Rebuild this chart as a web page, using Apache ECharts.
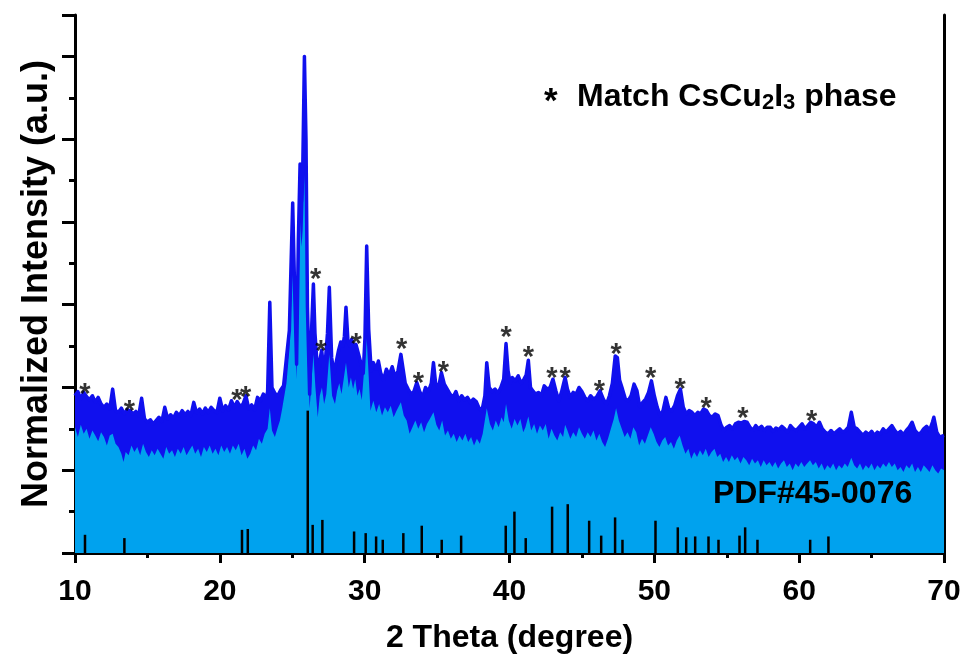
<!DOCTYPE html>
<html>
<head>
<meta charset="utf-8">
<script src="https://cdn.jsdelivr.net/npm/echarts@6/dist/echarts.min.js"></script>
<style>
html,body{margin:0;padding:0;background:#ffffff;}
#chart{width:967px;height:666px;}
</style>
</head>
<body>
<div id="chart"></div>
<script>
// ---- data ----
// upper edge of the measured XRD trace [2theta, normalized intensity]
const upperEnvelope = [
[10.0,1.90],[10.2,1.95],[10.4,1.86],[10.6,1.94],[10.8,1.89],
[11.0,1.85],[11.2,1.90],[11.4,1.82],[11.6,1.88],[11.8,1.80],
[12.0,1.76],[12.2,1.80],[12.4,1.74],[12.6,1.98],[12.8,1.72],
[13.0,1.70],[13.2,1.75],[13.4,1.68],[13.6,1.73],[13.8,1.72],
[14.0,1.68],[14.2,1.71],[14.4,1.66],[14.6,1.87],[14.8,1.62],
[15.0,1.58],[15.2,1.61],[15.4,1.56],[15.6,1.60],[15.8,1.64],
[16.0,1.59],[16.2,1.76],[16.4,1.62],[16.6,1.67],[16.8,1.63],
[17.0,1.70],[17.2,1.66],[17.4,1.72],[17.6,1.67],[17.8,1.71],
[18.0,1.66],[18.2,1.82],[18.4,1.69],[18.6,1.74],[18.8,1.68],
[19.0,1.75],[19.2,1.70],[19.4,1.76],[19.6,1.72],[19.8,1.70],
[20.0,1.87],[20.2,1.72],[20.4,1.78],[20.6,1.73],[20.8,1.84],
[21.0,1.76],[21.2,1.83],[21.4,1.77],[21.6,1.80],[21.8,1.90],
[22.0,1.74],[22.2,1.79],[22.4,1.73],[22.6,1.88],[22.8,1.84],
[23.0,1.92],[23.2,1.87],[23.3,1.95],[23.45,3.03],[23.6,2.00],[23.8,1.93],
[24.0,1.90],[24.2,1.97],[24.4,2.02],[24.6,2.36],[24.8,2.69],[24.9,3.37],
[25.03,4.23],[25.15,3.29],[25.3,2.28],[25.42,3.77],[25.54,4.70],[25.64,4.25],
[25.72,4.57],[25.84,6.00],[25.95,4.98],[26.05,2.97],[26.2,1.92],[26.35,2.77],
[26.46,3.25],[26.57,2.65],[26.76,2.17],[26.9,2.32],[27.03,2.45],[27.15,2.25],
[27.3,2.35],[27.43,2.65],[27.56,3.21],[27.72,2.36],[27.89,2.17],[28.05,2.32],
[28.2,2.45],[28.35,2.55],[28.5,2.50],[28.6,2.62],[28.71,2.97],[28.85,2.55],
[29.0,2.50],[29.1,2.58],[29.25,2.48],[29.4,2.52],[29.55,2.42],[29.7,2.32],
[29.9,2.17],[30.02,2.60],[30.14,3.71],[30.28,2.70],[30.45,2.20],[30.6,2.30],
[30.8,2.22],[30.95,2.32],[31.1,2.18],[31.3,2.09],[31.5,2.22],[31.7,2.15],
[31.9,2.25],[32.1,2.12],[32.3,2.20],[32.5,2.40],[32.6,2.38],[32.8,2.05],
[33.0,1.98],[33.2,1.92],[33.4,1.95],[33.6,2.06],[33.8,1.95],
[34.0,1.88],[34.2,2.00],[34.4,1.95],[34.6,2.05],[34.75,2.30],[34.9,2.05],
[35.1,2.00],[35.3,2.18],[35.5,2.04],[35.7,1.98],[35.9,1.92],
[36.1,1.88],[36.3,1.95],[36.5,1.84],[36.7,1.90],[36.9,1.85],
[37.1,1.88],[37.3,1.82],[37.5,1.86],[37.7,1.83],[37.9,1.75],
[38.1,1.72],[38.3,1.90],[38.43,2.30],[38.6,2.00],[38.8,1.95],
[39.0,1.98],[39.2,1.93],[39.4,2.00],[39.6,2.10],[39.76,2.53],[39.9,2.20],
[40.05,2.05],[40.2,2.12],[40.4,2.08],[40.6,2.14],[40.8,2.05],
[41.0,2.10],[41.15,2.15],[41.3,2.33],[41.45,2.00],[41.6,1.96],[41.8,1.92],
[42.0,1.94],[42.2,1.90],[42.4,2.02],[42.6,1.98],[42.8,2.00],
[43.0,2.10],[43.2,1.96],[43.4,1.84],[43.6,1.95],[43.84,2.12],
[44.0,1.98],[44.2,1.88],[44.4,1.94],[44.6,1.92],[44.8,2.00],
[45.0,1.95],[45.2,1.88],[45.4,1.84],[45.6,1.90],[45.8,1.86],
[46.0,1.88],[46.25,1.96],[46.5,1.85],[46.7,1.80],[46.9,1.90],
[47.1,2.05],[47.3,2.38],[47.45,2.36],[47.6,2.09],[47.8,1.98],
[48.0,1.86],[48.2,1.84],[48.4,1.90],[48.6,2.04],[48.8,1.96],
[49.0,1.76],[49.2,1.82],[49.4,1.86],[49.6,1.94],[49.8,2.08],
[50.0,1.90],[50.2,1.76],[50.4,1.66],[50.6,1.72],[50.8,1.88],
[51.0,1.74],[51.2,1.72],[51.4,1.78],[51.6,1.90],[51.8,1.98],
[52.0,1.76],[52.2,1.68],[52.4,1.72],[52.6,1.70],[52.8,1.66],
[53.0,1.70],[53.2,1.68],[53.4,1.74],[53.6,1.72],[53.8,1.66],
[54.0,1.64],[54.2,1.68],[54.4,1.66],[54.6,1.55],[54.8,1.48],
[55.0,1.52],[55.2,1.54],[55.4,1.50],[55.6,1.56],[55.8,1.58],
[56.0,1.57],[56.2,1.59],[56.4,1.58],[56.6,1.52],[56.8,1.48],
[57.0,1.54],[57.2,1.50],[57.4,1.53],[57.6,1.48],[57.8,1.52],
[58.0,1.52],[58.2,1.47],[58.4,1.51],[58.6,1.49],[58.8,1.53],
[59.0,1.50],[59.2,1.46],[59.4,1.54],[59.6,1.50],[59.8,1.48],
[60.0,1.52],[60.2,1.56],[60.4,1.50],[60.6,1.54],[60.8,1.58],
[61.0,1.56],[61.2,1.52],[61.4,1.58],[61.6,1.50],[61.8,1.46],
[62.0,1.44],[62.2,1.48],[62.4,1.44],[62.6,1.47],[62.8,1.50],
[63.0,1.46],[63.2,1.48],[63.4,1.52],[63.6,1.70],[63.8,1.52],
[64.0,1.50],[64.2,1.46],[64.4,1.42],[64.6,1.46],[64.8,1.43],
[65.0,1.47],[65.2,1.42],[65.4,1.46],[65.6,1.44],[65.8,1.50],
[66.0,1.46],[66.2,1.50],[66.4,1.54],[66.6,1.48],[66.8,1.44],
[67.0,1.47],[67.2,1.43],[67.4,1.48],[67.6,1.52],[67.8,1.58],
[68.0,1.48],[68.2,1.44],[68.4,1.45],[68.6,1.50],[68.8,1.53],
[69.0,1.48],[69.2,1.58],[69.3,1.64],[69.5,1.46],[69.7,1.40],[70.0,1.42]
];

// lower edge of the noisy trace (top of the light fill)
const lowerEnvelope = [
[10.0,1.52],[10.2,1.40],[10.4,1.55],[10.6,1.44],[10.8,1.50],[11.0,1.38],
[11.2,1.48],[11.4,1.42],[11.6,1.35],[11.8,1.46],[12.0,1.40],[12.2,1.30],
[12.4,1.42],[12.6,1.44],[12.8,1.32],[13.0,1.28],[13.2,1.20],[13.35,1.10],
[13.5,1.22],[13.7,1.18],[13.9,1.30],[14.1,1.22],[14.3,1.28],[14.5,1.18],
[14.7,1.32],[14.9,1.22],[15.1,1.16],[15.3,1.24],[15.5,1.18],[15.7,1.26],
[15.9,1.20],[16.1,1.14],[16.3,1.28],[16.5,1.20],[16.7,1.24],[16.9,1.16],
[17.1,1.26],[17.3,1.20],[17.5,1.28],[17.7,1.18],[17.9,1.24],[18.1,1.30],
[18.3,1.20],[18.5,1.26],[18.7,1.16],[18.9,1.28],[19.1,1.22],[19.3,1.30],
[19.5,1.20],[19.7,1.26],[19.9,1.18],[20.1,1.30],[20.3,1.22],[20.5,1.28],
[20.7,1.20],[20.9,1.30],[21.1,1.24],[21.3,1.32],[21.5,1.18],[21.7,1.26],
[21.9,1.14],[22.1,1.20],[22.3,1.30],[22.5,1.24],[22.7,1.38],[22.9,1.32],
[23.1,1.44],[23.3,1.50],[23.45,1.75],[23.6,1.48],[23.8,1.40],[24.0,1.52],
[24.15,1.60],[24.3,1.74],[24.6,2.05],[24.8,2.45],[24.95,3.10],[25.03,3.60],
[25.12,3.00],[25.3,2.10],[25.42,3.00],[25.54,4.00],[25.64,3.70],[25.72,3.90],
[25.84,4.60],[25.95,3.80],[26.05,2.40],[26.2,1.75],[26.46,2.40],[26.6,2.00],
[26.76,1.64],[26.9,1.90],[27.05,2.00],[27.2,1.80],[27.35,1.92],[27.56,2.40],
[27.75,1.90],[27.95,1.80],[28.1,1.96],[28.25,2.05],[28.4,1.92],[28.55,2.10],
[28.71,2.30],[28.9,2.00],[29.05,2.12],[29.2,1.98],[29.35,2.10],[29.5,1.90],
[29.65,1.98],[29.8,1.85],[30.14,2.60],[30.4,1.72],[30.6,1.84],[30.8,1.70],
[31.0,1.80],[31.2,1.66],[31.4,1.76],[31.6,1.70],[31.8,1.78],[32.0,1.64],
[32.2,1.72],[32.5,1.82],[32.7,1.66],[32.9,1.60],[33.1,1.44],[33.3,1.52],
[33.5,1.60],[33.7,1.50],[33.9,1.58],[34.1,1.46],[34.3,1.56],[34.5,1.62],
[34.75,1.70],[34.95,1.55],[35.15,1.48],[35.35,1.60],[35.55,1.42],[35.75,1.48],
[35.95,1.38],[36.15,1.44],[36.35,1.34],[36.55,1.42],[36.75,1.36],[36.95,1.44],
[37.15,1.34],[37.35,1.40],[37.55,1.30],[37.75,1.38],[37.95,1.32],[38.15,1.44],
[38.43,1.75],[38.65,1.56],[38.85,1.48],[39.05,1.60],[39.25,1.52],[39.45,1.64],
[39.6,1.58],[39.76,1.80],[39.95,1.60],[40.15,1.50],[40.35,1.62],[40.55,1.54],
[40.75,1.62],[40.95,1.46],[41.1,1.52],[41.3,1.65],[41.5,1.48],[41.7,1.56],
[41.9,1.44],[42.1,1.54],[42.3,1.48],[42.5,1.56],[42.7,1.38],[42.9,1.50],
[43.1,1.42],[43.3,1.36],[43.5,1.46],[43.7,1.40],[43.84,1.55],[44.0,1.48],
[44.2,1.38],[44.4,1.46],[44.6,1.40],[44.8,1.52],[45.0,1.44],[45.2,1.38],
[45.4,1.46],[45.6,1.40],[45.8,1.48],[46.0,1.36],[46.2,1.44],[46.4,1.34],
[46.6,1.28],[46.8,1.38],[47.0,1.50],[47.2,1.62],[47.36,1.75],[47.55,1.60],
[47.75,1.50],[47.95,1.40],[48.15,1.46],[48.35,1.38],[48.55,1.52],[48.75,1.46],
[48.95,1.30],[49.15,1.38],[49.35,1.32],[49.55,1.42],[49.75,1.52],[49.95,1.44],
[50.15,1.34],[50.35,1.28],[50.55,1.36],[50.75,1.40],[50.95,1.30],[51.15,1.34],
[51.35,1.26],[51.55,1.36],[51.75,1.42],[51.95,1.30],[52.15,1.20],[52.35,1.26],
[52.55,1.14],[52.75,1.22],[52.95,1.16],[53.15,1.24],[53.35,1.18],[53.55,1.26],
[53.75,1.16],[53.95,1.22],[54.15,1.26],[54.35,1.16],[54.55,1.20],[54.75,1.10],
[54.95,1.16],[55.15,1.10],[55.35,1.18],[55.55,1.12],[55.75,1.16],[55.95,1.08],
[56.15,1.16],[56.35,1.12],[56.55,1.06],[56.75,1.14],[56.95,1.08],[57.15,1.12],
[57.35,1.04],[57.55,1.12],[57.75,1.06],[57.95,1.10],[58.15,1.04],[58.35,1.10],
[58.55,1.02],[58.75,1.08],[58.95,1.12],[59.15,1.04],[59.35,1.08],[59.55,1.00],
[59.75,1.08],[59.95,1.04],[60.15,1.10],[60.35,1.04],[60.55,1.08],[60.75,1.12],
[60.95,1.06],[61.15,1.10],[61.35,1.02],[61.55,1.08],[61.75,1.00],[61.95,1.06],
[62.15,1.02],[62.35,1.08],[62.55,1.00],[62.75,1.06],[62.95,1.02],[63.15,1.08],
[63.35,1.04],[63.6,1.15],[63.8,1.06],[64.0,1.02],[64.2,1.08],[64.4,1.00],
[64.6,1.06],[64.8,1.02],[65.0,1.08],[65.2,1.00],[65.4,1.06],[65.6,1.02],
[65.8,1.08],[66.0,1.04],[66.2,1.10],[66.4,1.04],[66.6,1.08],[66.8,1.00],
[67.0,1.04],[67.2,0.98],[67.4,1.06],[67.6,1.02],[67.8,1.08],[68.0,0.98],
[68.2,1.04],[68.4,0.98],[68.6,1.06],[68.8,1.02],[69.0,0.98],[69.2,1.06],
[69.4,1.00],[69.6,0.96],[69.8,1.02],[70.0,1.00]
];

// PDF#45-0076 reference lines [2theta, height]
const pdfSticks = [
[10.69,0.22],[13.41,0.18],[21.53,0.28],[21.93,0.29],[26.07,1.72],[26.41,0.34],
[27.08,0.40],[29.27,0.26],[30.07,0.24],[30.79,0.20],[31.25,0.16],[32.67,0.24],
[33.94,0.33],[35.32,0.16],[36.66,0.21],[39.74,0.33],[40.34,0.50],[41.12,0.18],
[42.94,0.56],[44.02,0.59],[45.50,0.39],[46.33,0.21],[47.29,0.43],[47.80,0.16],
[50.08,0.39],[51.62,0.31],[52.20,0.19],[52.82,0.20],[53.74,0.20],[54.43,0.16],
[55.88,0.21],[56.27,0.31],[57.12,0.16],[60.76,0.16],[62.02,0.20]
];

// asterisks marking peaks that match the CsCu2I3 phase
const phaseMarks = [
[10.69,2.00],[13.75,1.80],[21.17,1.93],[21.79,1.97],[26.62,3.39],[26.97,2.53],
[29.41,2.61],[32.56,2.55],[33.71,2.14],[35.44,2.27],[39.77,2.69],[41.31,2.45],
[42.92,2.20],[43.84,2.20],[46.21,2.04],[47.36,2.49],[49.75,2.20],[51.78,2.06],
[53.58,1.84],[56.11,1.72],[60.87,1.68]
];

const xRange = [10, 70];
const xStep = 10;
const yRange = [0, 6.5];
const yStep = 1;
const xTitle = '2 Theta (degree)';
const yTitle = 'Normalized Intensity (a.u.)';
const refLabel = 'PDF#45-0076';

// ---- chart ----
const FONT = '"Liberation Sans", Arial, Helvetica, sans-serif';
const DARK = '#1010EE';
const LIGHT = '#00A2EE';
const chart = echarts.init(document.getElementById('chart'), null, {renderer: 'canvas'});

const option = {
  animation: false,
  backgroundColor: '#ffffff',
  grid: {left: 75, right: 23, top: 15, bottom: 113},
  xAxis: [{
    type: 'value', min: xRange[0], max: xRange[1], interval: xStep,
    name: xTitle, nameLocation: 'middle', nameGap: 69,
    nameTextStyle: {fontFamily: FONT, fontWeight: 'bold', fontSize: 32, color: '#000'},
    axisLine: {show: true, onZero: false, lineStyle: {color: '#000', width: 3}},
    axisTick: {show: true, length: 10, lineStyle: {color: '#000', width: 3}},
    minorTick: {show: true, splitNumber: 2, length: 5, lineStyle: {color: '#000', width: 3}},
    axisLabel: {fontFamily: FONT, fontWeight: 'bold', fontSize: 30, color: '#000', margin: 24},
    splitLine: {show: false}, minorSplitLine: {show: false}
  }, {
    type: 'value', position: 'top', min: xRange[0], max: xRange[1],
    axisLine: {show: true, lineStyle: {color: '#000', width: 3}},
    axisTick: {show: false}, axisLabel: {show: false}, splitLine: {show: false}
  }],
  yAxis: [{
    type: 'value', min: yRange[0], max: yRange[1], interval: yStep,
    name: yTitle, nameLocation: 'middle', nameGap: 20,
    nameTextStyle: {fontFamily: FONT, fontWeight: 'bold', fontSize: 36, color: '#000'},
    axisLine: {show: true, lineStyle: {color: '#000', width: 3}},
    axisTick: {show: true, length: 13, lineStyle: {color: '#000', width: 3}},
    minorTick: {show: true, splitNumber: 2, length: 6, lineStyle: {color: '#000', width: 3}},
    axisLabel: {show: false},
    splitLine: {show: false}, minorSplitLine: {show: false}
  }, {
    type: 'value', position: 'right', min: yRange[0], max: yRange[1],
    axisLine: {show: true, lineStyle: {color: '#000', width: 3}},
    axisTick: {show: false}, axisLabel: {show: false}, splitLine: {show: false}
  }],
  series: [
    {
      name: 'band', type: 'line', data: upperEnvelope, showSymbol: false, symbol: 'none',
      lineStyle: {width: 0}, areaStyle: {color: DARK, opacity: 1}, z: 2, silent: true
    },
    {
      name: 'fill', type: 'line', data: lowerEnvelope, showSymbol: false, symbol: 'none',
      lineStyle: {width: 0}, areaStyle: {color: LIGHT, opacity: 1}, z: 3, silent: true
    },
    {
      name: 'trace', type: 'line', data: upperEnvelope, showSymbol: false, symbol: 'none',
      lineStyle: {width: 3.5, color: DARK, join: 'round'}, z: 4, silent: true
    },
    {
      name: 'PDF', type: 'bar', data: pdfSticks, barWidth: 2.5,
      itemStyle: {color: '#000'}, z: 5, silent: true
    },
    {
      name: 'match', type: 'scatter', data: phaseMarks, symbolSize: 1,
      itemStyle: {color: 'rgba(0,0,0,0)'}, z: 6, silent: true,
      label: {show: true, formatter: '*', position: 'inside', offset: [0, 8],
        fontFamily: FONT, fontWeight: 'bold', fontSize: 29, color: '#000'}
    }
  ],
  graphic: [
    {type: 'text', left: 544, top: 85, z: 10,
      style: {text: '*', font: 'bold 35px ' + FONT, fill: '#000'}},
    {type: 'text', left: 577, top: 81, z: 10,
      style: {
        text: '{m|Match CsCu}{s|2}{m|I}{s|3}{m| phase}',
        rich: {
          m: {fontFamily: FONT, fontWeight: 'bold', fontSize: 32, lineHeight: 33, fill: '#000', color: '#000'},
          s: {fontFamily: FONT, fontWeight: 'bold', fontSize: 22, lineHeight: 24, verticalAlign: 'bottom', fill: '#000', color: '#000'}
        }
      }},
    {type: 'text', left: 713, top: 478, z: 10,
      style: {text: refLabel, font: 'bold 32px ' + FONT, fill: '#000'}}
  ]
};
chart.setOption(option);
</script>
</body>
</html>
